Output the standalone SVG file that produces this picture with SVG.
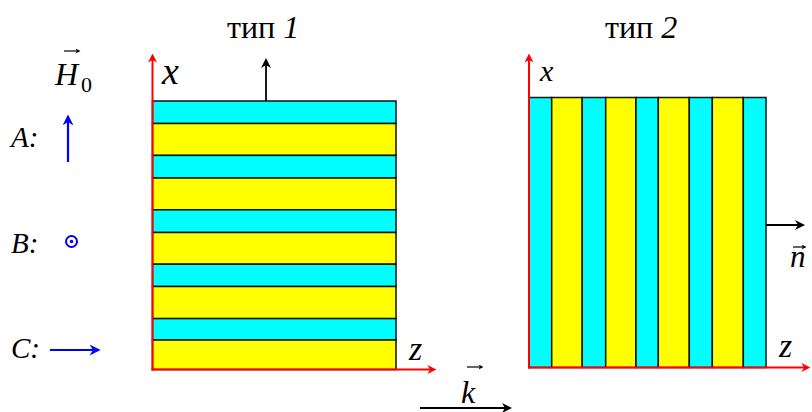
<svg xmlns="http://www.w3.org/2000/svg" width="812" height="412" viewBox="0 0 812 412">
<defs>
<style>
.cy{fill:#00FFFF;stroke:#111;stroke-width:1.5}
.ye{fill:#FFFF00;stroke:#111;stroke-width:1.5}
.ax{stroke:#FF0000;stroke-width:2;fill:none}
.bk{stroke:#000;stroke-width:1.8;fill:none}
.bl{stroke:#0000FF;stroke-width:2.2;fill:none}
.vec{stroke:#000;stroke-width:1.2;fill:none}
.t{font-family:'Liberation Serif','Times New Roman',serif;fill:#000}
.it{font-style:italic}
</style>
<marker id="mr" viewBox="0 0 10 10" refX="4" refY="5" markerWidth="11" markerHeight="9" markerUnits="userSpaceOnUse" orient="auto"><path d="M0,0 L10,5 L0,10 L3,5 z" fill="#FF0000"/></marker>
<marker id="mk" viewBox="0 0 10 10" refX="4" refY="5" markerWidth="11" markerHeight="10" markerUnits="userSpaceOnUse" orient="auto"><path d="M0,0 L10,5 L0,10 L3,5 z" fill="#000"/></marker>
<marker id="mb" viewBox="0 0 10 10" refX="4" refY="5" markerWidth="12" markerHeight="11" markerUnits="userSpaceOnUse" orient="auto"><path d="M0,0 L10,5 L0,10 L3,5 z" fill="#0000FF"/></marker>
<marker id="mv" viewBox="0 0 10 10" refX="5" refY="5" markerWidth="6" markerHeight="5" markerUnits="userSpaceOnUse" orient="auto"><path d="M0,0 L10,5 L0,10 L3,5 z" fill="#000"/></marker>
</defs>

<g id="title1"><text class="t" font-family="Liberation Serif, serif" x="227" y="38" font-size="32">тип <tspan class="it">1</tspan></text></g>
<g id="title2"><text class="t" font-family="Liberation Serif, serif" x="605" y="38" font-size="32">тип <tspan class="it">2</tspan></text></g>

<g id="h0-label">
<text class="t it" font-family="Liberation Serif, serif" x="55" y="85" font-size="32">H</text>
<text class="t" font-family="Liberation Serif, serif" x="81" y="92" font-size="22">0</text>
<line class="vec" x1="64" y1="51" x2="78" y2="51" marker-end="url(#mv)"/>
</g>

<g id="legend-a"><text class="t it" font-family="Liberation Serif, serif" x="11" y="147" font-size="29">A:</text></g>
<g id="legend-b">
<text class="t it" font-family="Liberation Serif, serif" x="11" y="253" font-size="29">B:</text>
<circle cx="71.5" cy="241.5" r="5.5" fill="none" stroke="#0000FF" stroke-width="2"/>
<circle cx="71.5" cy="241.5" r="1.8" fill="#0000FF"/>
</g>
<g id="legend-c"><text class="t it" font-family="Liberation Serif, serif" x="11" y="358" font-size="29">C:</text></g>

<g id="panel1">
<rect class="cy" x="152.5" y="101" width="243.5" height="22.5"/>
<rect class="ye" x="152.5" y="123.5" width="243.5" height="31.9"/>
<rect class="cy" x="152.5" y="155.4" width="243.5" height="22.6"/>
<rect class="ye" x="152.5" y="178" width="243.5" height="31.8"/>
<rect class="cy" x="152.5" y="209.8" width="243.5" height="22.7"/>
<rect class="ye" x="152.5" y="232.5" width="243.5" height="31.7"/>
<rect class="cy" x="152.5" y="264.2" width="243.5" height="22.3"/>
<rect class="ye" x="152.5" y="286.5" width="243.5" height="32.1"/>
<rect class="cy" x="152.5" y="318.6" width="243.5" height="21.4"/>
<rect class="ye" x="152.5" y="340" width="243.5" height="29.5"/>
</g>

<g id="panel2">
<rect class="cy" x="529" y="97.5" width="22.7" height="270"/>
<rect class="ye" x="551.7" y="97.5" width="30.5" height="270"/>
<rect class="cy" x="582.2" y="97.5" width="23.5" height="270"/>
<rect class="ye" x="605.7" y="97.5" width="30.3" height="270"/>
<rect class="cy" x="636" y="97.5" width="22.3" height="270"/>
<rect class="ye" x="658.3" y="97.5" width="31" height="270"/>
<rect class="cy" x="689.3" y="97.5" width="23" height="270"/>
<rect class="ye" x="712.3" y="97.5" width="31" height="270"/>
<rect class="cy" x="743.3" y="97.5" width="22.7" height="270"/>
</g>

<g id="axes-labels">
<text class="t it" font-family="Liberation Serif, serif" x="162" y="84" font-size="38">x</text>
<text class="t it" font-family="Liberation Serif, serif" x="409" y="360" font-size="34">z</text>
<text class="t it" font-family="Liberation Serif, serif" x="540" y="81" font-size="30">x</text>
<text class="t it" font-family="Liberation Serif, serif" x="779" y="357" font-size="34">z</text>
<text class="t it" font-family="Liberation Serif, serif" x="461" y="403" font-size="32">k</text>
<line class="vec" x1="467" y1="367" x2="481" y2="367" marker-end="url(#mv)"/>
<text class="t it" font-family="Liberation Serif, serif" x="790" y="267" font-size="31">n</text>
<line class="vec" x1="793" y1="247" x2="804" y2="247" marker-end="url(#mv)"/>
</g>

<g id="connectors">
<line class="ax" x1="152.5" y1="370.5" x2="152.5" y2="59" marker-end="url(#mr)"/>
<line class="ax" x1="151.5" y1="369.5" x2="431" y2="369.5" marker-end="url(#mr)"/>
<line class="ax" x1="529" y1="368.5" x2="529" y2="59" marker-end="url(#mr)"/>
<line class="ax" x1="528" y1="367.5" x2="805" y2="367.5" marker-end="url(#mr)"/>
<line class="bk" x1="266" y1="101" x2="266" y2="64" marker-end="url(#mk)"/>
<line class="bk" x1="766" y1="225" x2="799" y2="225" marker-end="url(#mk)"/>
<line class="bk" x1="420" y1="408" x2="506" y2="408" marker-end="url(#mk)"/>
<line class="bl" x1="68" y1="162" x2="68" y2="121" marker-end="url(#mb)"/>
<line class="bl" x1="50" y1="350" x2="94" y2="350" marker-end="url(#mb)"/>
</g>
</svg>
